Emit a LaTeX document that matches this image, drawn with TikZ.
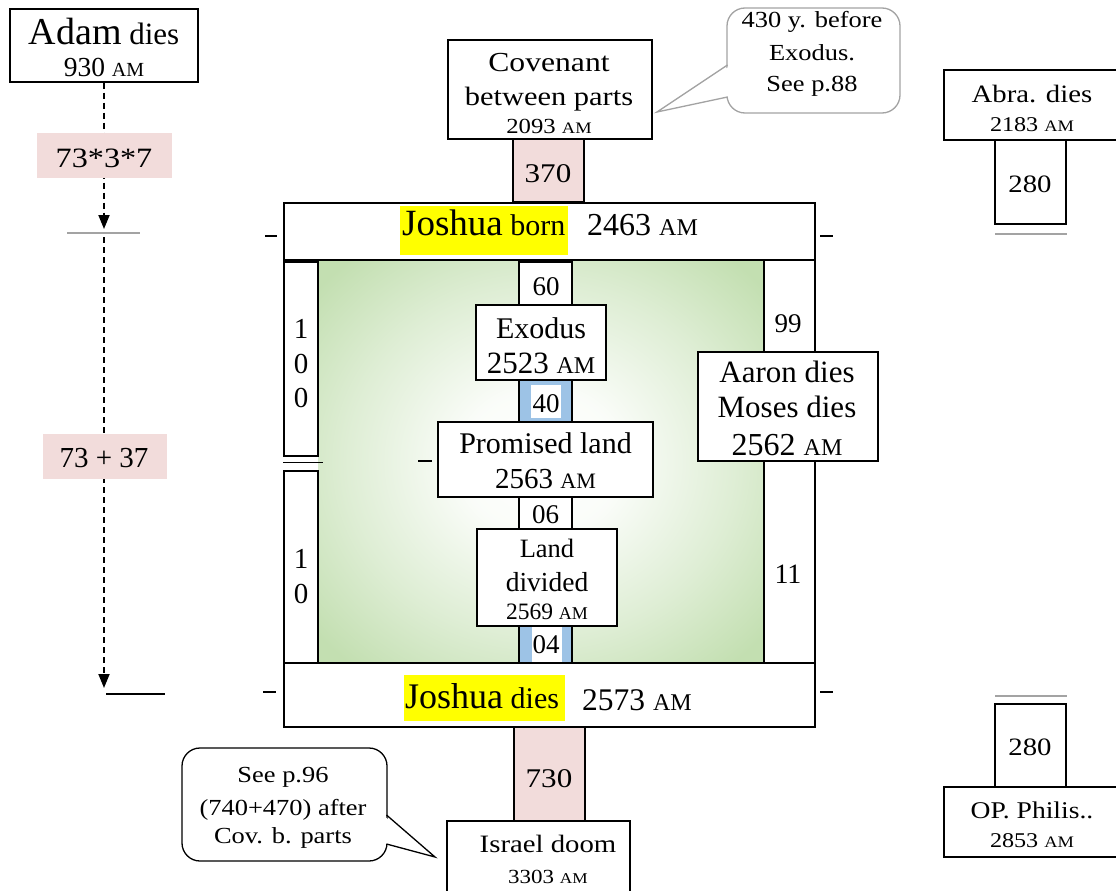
\documentclass[tikz,border=0pt]{standalone}
\usepackage{fontspec}
\setmainfont{Liberation Serif}
\newfontfamily\widefont[FakeStretch=1.15]{Liberation Serif}
\usetikzlibrary{arrows.meta}
\newcommand\fsz[1]{\fontsize{#1}{#1}\selectfont}
\newcommand\am[1]{{\fontsize{#1}{#1}\selectfont AM}}
\definecolor{pinkc}{HTML}{F2DCDB}
\definecolor{bluec}{HTML}{9DC3E6}
\definecolor{greenc}{HTML}{C3DFB1}
\definecolor{grayc}{HTML}{A3A3A3}
\definecolor{yelc}{HTML}{FFFF00}
\pgfdeclareradialshading{greenglow}{\pgfpoint{0bp}{0bp}}{color(0bp)=(white); color(9bp)=(white!92!greenc); color(22bp)=(white!45!greenc); color(33bp)=(greenc); color(50bp)=(greenc)}
\begin{document}
\begin{tikzpicture}[x=1pt,y=-1pt,
  box/.style={draw=black, line width=1.3pt, fill=white, inner sep=0pt, rectangle},
  lbl/.style={inner sep=0pt, anchor=base},
  lblw/.style={inner sep=0pt, anchor=base west},
  pinkbox/.style={fill=pinkc, inner sep=0pt},
  hl/.style={fill=yelc, inner sep=0pt},
  whitebg/.style={fill=white, inner sep=0pt},
  tick/.style={line width=1.3pt, black},
  grayline/.style={line width=2pt, grayc},
  dasharrow/.style={line width=1.8pt, dash pattern=on 6pt off 4pt, -{Triangle[width=11pt,length=14pt]}},
  callout/.style={line width=1.3pt, rounded corners=18pt, fill=white, inner sep=0pt}
]
\useasboundingbox (0,0) rectangle (1116,891);
\fill[white] (0,0) rectangle (1116,891);

% green shaded field
\shade[shading=greenglow] (318,260) rectangle (764,663);

% left time line
\node[box, minimum width=188pt, minimum height=73pt] (adam) at (104,45.5) {};
\coordinate (a1) at (104,229);
\coordinate (a2) at (104,237);
\coordinate (a3) at (104,688);
\draw[dasharrow] (adam.south) -- (a1);
\draw[dasharrow] (a2) -- (a3);
\node[pinkbox, minimum width=135pt, minimum height=45pt] (p1) at (104.5,155.5) {};
\node[pinkbox, minimum width=124pt, minimum height=45pt] (p2) at (105,456.5) {};
\node[lbl] (tp1) at (104,167) {\widefont\fsz{28}73*3*7};
\node[lbl] (tp2) at (104,467) {\fsz{29}73 + 37};
\node[lbl] (ta1) at (104,44.3) {{\fsz{38}Adam}{\fsz{31} dies}};
\node[lbl] (ta2) at (104,77) {\fsz{27.5}930 \am{20}};
\coordinate (g1a) at (67,233); \coordinate (g1b) at (140,233);
\draw[grayline] (g1a) -- (g1b);
\coordinate (k1a) at (106,694); \coordinate (k1b) at (165,694);
\draw[line width=1.5pt] (k1a) -- (k1b);

% covenant
\node[box, minimum width=204pt, minimum height=99pt] (cov) at (550,89.5) {};
\node[lbl] (tc1) at (549,71) {\widefont\fsz{27.5}Covenant};
\node[lbl] (tc2) at (549,105) {\widefont\fsz{26.5}between parts};
\node[lbl] (tc3) at (549,133.3) {\widefont\fsz{21.5}2093 \am{16}};
\node[box, fill=pinkc, minimum width=71pt, minimum height=63pt] (n370) at (548.5,170.5) {};
\node[lbl] (t370) at (548,182) {\widefont\fsz{27}370};

% callout top
\node[callout, draw=grayc, minimum width=173pt, minimum height=105pt] (c430) at (813.5,60.5) {};
\coordinate (tip1) at (657,112);
\coordinate (c1a) at (727.5,65); \coordinate (c1b) at (727.5,97);
\coordinate (c1c) at (730,66); \coordinate (c1d) at (730,96);
\fill[white] (c1c) -- (tip1) -- (c1d) -- cycle;
\draw[line width=1.3pt, grayc, line join=miter] (c1a) -- (tip1) -- (c1b);
\node[lbl] (tq1) at (812,28) {\widefont\fsz{23}430 y. before};
\node[lbl] (tq2) at (812,61) {\widefont\fsz{23}Exodus.};
\node[lbl] (tq3) at (812,92) {\widefont\fsz{23}See p.88};

% Joshua born bar
\node[box, minimum width=531pt, minimum height=57pt] (jborn) at (549.5,231.5) {};
\node[hl, minimum width=168pt, minimum height=49pt] (hb) at (484,230.5) {};
\node[lblw] (tjb) at (402,235) {{\fsz{37}Joshua}{\fsz{30} born}};
\node[lblw] (tjb2) at (587,235) {\fsz{32}2463 \am{24}};

% side bars
\node[box, minimum width=34pt, minimum height=194pt] (l100) at (301,359) {};
\node[box, minimum width=34pt, minimum height=192pt] (l10) at (301,567) {};
\node[box, minimum width=51pt, minimum height=92pt] (r99) at (789.5,306) {};
\node[box, minimum width=51pt, minimum height=202pt] (r11) at (789.5,562) {};
\node[lbl] (d1) at (301,338) {\fsz{29}1};
\node[lbl] (d2) at (301,373) {\fsz{29}0};
\node[lbl] (d3) at (301,407) {\fsz{29}0};
\node[lbl] (d4) at (301,568) {\fsz{29}1};
\node[lbl] (d5) at (301,603) {\fsz{29}0};
\node[lbl] (t99) at (788,332) {\fsz{27}99};
\node[lbl] (t11) at (788,583) {\fsz{28}11};
\coordinate (m1a) at (283,462.5); \coordinate (m1b) at (323,462.5);
\draw[line width=1.5pt] (m1a) -- (m1b);

% aaron
\node[box, minimum width=180pt, minimum height=109pt] (aaron) at (788,406.5) {};
\node[lbl] (tr1) at (787,382) {\fsz{31}Aaron dies};
\node[lbl] (tr2) at (787,417) {\fsz{31}Moses dies};
\node[lbl] (tr3) at (787,455) {\fsz{32}2562 \am{24}};

% central column
\node[box, minimum width=53pt, minimum height=43pt] (n60) at (545.5,283.5) {};
\node[lbl] (t60) at (546,295) {\fsz{27}60};
\node[box, minimum width=130pt, minimum height=75pt] (exodus) at (541,342.5) {};
\node[lbl] (te1) at (541,338) {\fsz{30}Exodus};
\node[lbl] (te2) at (541,373) {\fsz{31}2523 \am{24}};
\node[box, fill=bluec, minimum width=53pt, minimum height=42pt] (n40) at (545.5,401) {};
\node[whitebg, minimum width=30pt, minimum height=33pt] (w40) at (546,401.5) {};
\node[lbl] (t40) at (546,412) {\fsz{27}40};
\node[box, minimum width=215pt, minimum height=75pt] (prom) at (545.5,459.5) {};
\node[lbl] (tp3) at (545.5,453) {\fsz{30}Promised land};
\node[lbl] (tp4) at (545.5,488) {\fsz{29}2563 \am{22}};
\node[box, minimum width=53pt, minimum height=32pt] (n06) at (545.5,513) {};
\node[lbl] (t06) at (545.5,523) {\fsz{27}06};
\node[box, minimum width=140pt, minimum height=97pt] (land) at (547,577.5) {};
\node[lbl] (tl1) at (547,557) {\fsz{26.5}Land};
\node[lbl] (tl2) at (547,591) {\fsz{27.5}divided};
\node[lbl] (tl3) at (547,619) {\fsz{23.5}2569 \am{18}};
\node[box, fill=bluec, minimum width=53pt, minimum height=37pt] (n04) at (545.5,644.5) {};
\node[whitebg, minimum width=30pt, minimum height=35pt] (w04) at (547,644.5) {};
\node[lbl] (t04) at (546,653) {\fsz{27}04};

% Joshua dies bar
\node[box, minimum width=531pt, minimum height=64pt] (jdies) at (549.5,695) {};
\node[hl, minimum width=161pt, minimum height=46pt] (hd) at (484.5,698) {};
\node[lblw] (tjd) at (405,708) {{\fsz{36}Joshua}{\fsz{30} dies}};
\node[lblw] (tjd2) at (582,710) {\fsz{31.5}2573 \am{24}};

% ticks
\coordinate (k2a) at (265,236); \coordinate (k2b) at (277,236);
\coordinate (k3a) at (820,236); \coordinate (k3b) at (833,236);
\coordinate (k4a) at (418,461); \coordinate (k4b) at (432,461);
\coordinate (k5a) at (263,692); \coordinate (k5b) at (276,692);
\coordinate (k6a) at (820,692); \coordinate (k6b) at (833,692);
\draw[tick] (k2a) -- (k2b);
\draw[tick] (k3a) -- (k3b);
\draw[tick] (k4a) -- (k4b);
\draw[tick] (k5a) -- (k5b);
\draw[tick] (k6a) -- (k6b);

% bottom
\node[box, fill=pinkc, minimum width=71pt, minimum height=94pt] (n730) at (549.5,774) {};
\node[lbl] (t730) at (549,787) {\widefont\fsz{27}730};
\node[box, minimum width=183pt, minimum height=74pt] (israel) at (538.5,858) {};
\node[lbl] (ti1) at (548,852) {\widefont\fsz{25}Israel doom};
\node[lbl] (ti2) at (548,883) {\widefont\fsz{20}3303 \am{15}};

% callout bottom
\node[callout, draw=black, minimum width=205pt, minimum height=113pt] (c96) at (284.5,804.5) {};
\coordinate (tip2) at (435,857);
\coordinate (c2a) at (386.5,815); \coordinate (c2b) at (386.5,844);
\coordinate (c2c) at (384,816); \coordinate (c2d) at (384,843);
\fill[white] (c2c) -- (tip2) -- (c2d) -- cycle;
\draw[line width=1.3pt, line join=miter] (c2a) -- (tip2) -- (c2b);
\node[lbl] (ts1) at (283,782) {\widefont\fsz{23}See p.96};
\node[lbl] (ts2) at (283,815) {\widefont\fsz{23}(740+470) after};
\node[lbl] (ts3) at (283,843) {\widefont\fsz{23}Cov. b. parts};

% right column
\node[box, minimum width=180pt, minimum height=70pt] (abra) at (1034,105) {};
\node[lbl] (tab1) at (1032,102) {\widefont\fsz{25}Abra. dies};
\node[lbl] (tab2) at (1032,131) {\widefont\fsz{21}2183 \am{16}};
\node[box, minimum width=71pt, minimum height=84pt] (a280) at (1030.5,182) {};
\node[lbl] (t280a) at (1030,192) {\widefont\fsz{25}280};
\coordinate (g2a) at (995,234); \coordinate (g2b) at (1067,234);
\draw[grayline] (g2a) -- (g2b);
\coordinate (g3a) at (995,696); \coordinate (g3b) at (1067,696);
\draw[grayline] (g3a) -- (g3b);
\node[box, minimum width=71pt, minimum height=83pt] (b280) at (1030.5,745.5) {};
\node[lbl] (t280b) at (1030,755) {\widefont\fsz{25}280};
\node[box, minimum width=180pt, minimum height=70pt] (op) at (1034,822) {};
\node[lbl] (to1) at (1032,818) {\widefont\fsz{24}OP. Philis..};
\node[lbl] (to2) at (1032,847) {\widefont\fsz{21}2853 \am{16}};
\end{tikzpicture}
\end{document}
